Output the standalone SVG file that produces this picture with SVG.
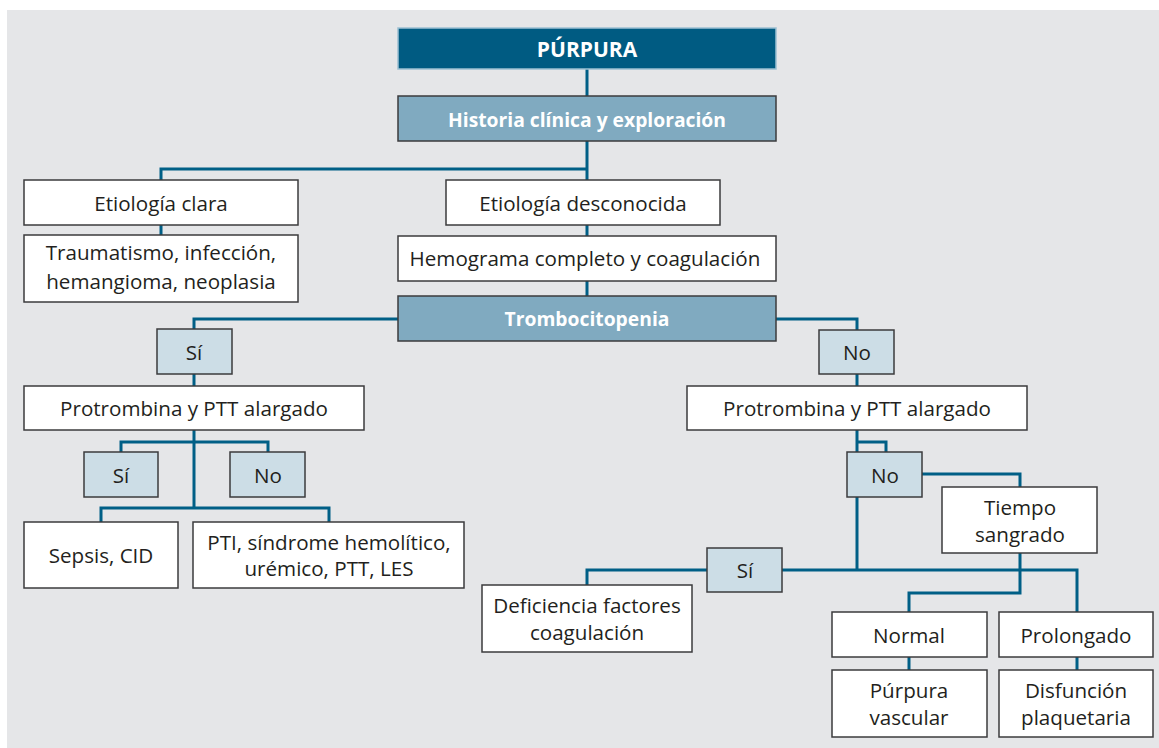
<svg xmlns="http://www.w3.org/2000/svg" width="1159" height="748" viewBox="0 0 1159 748">
  <style>
    .bg { fill: #e5e6e8; }
    .box { fill: #ffffff; stroke: #3b3b3d; stroke-width: 1.5; }
    .ans { fill: #ccdde6; stroke: #3b3b3d; stroke-width: 1.5; }
    .mid { fill: #80aac0; stroke: #3b3b3d; stroke-width: 1.5; }
    .top { fill: #005b82; stroke: #9cc0d2; stroke-width: 1.5; }
    .t { font-family: "Open Sans", "Liberation Sans", sans-serif; font-size: 20.6px; fill: #231f20; text-anchor: middle; }
    .tw { font-family: "Open Sans", "Liberation Sans", sans-serif; font-size: 19.3px; font-weight: bold; fill: #ffffff; text-anchor: middle; }
    .title { font-size: 21px; }
    .link { fill: none; stroke: #005f86; stroke-width: 3; stroke-linejoin: miter; stroke-linecap: butt; }
  </style>

  <rect class="bg" x="7" y="10" width="1152" height="738"/>

  <!-- connectors -->
  <g id="connectors">
    <polyline class="link" points="587,69 587,96"/>
    <polyline class="link" points="587,141 587,180"/>
    <polyline class="link" points="588,169 161,169 161,180"/>
    <polyline class="link" points="161,225 161,235"/>
    <polyline class="link" points="587,225 587,236"/>
    <polyline class="link" points="587,281 587,296"/>
    <polyline class="link" points="398,319 194,319 194,329"/>
    <polyline class="link" points="194,374 194,386"/>
    <polyline class="link" points="194,430 194,508"/>
    <polyline class="link" points="121,452 121,442 268,442 268,452"/>
    <polyline class="link" points="101,522 101,508 329,508 329,522"/>
    <polyline class="link" points="776,319 857,319 857,330"/>
    <polyline class="link" points="857,374 857,386"/>
    <polyline class="link" points="857,430 857,452"/>
    <polyline class="link" points="857,442 886,442 886,452"/>
    <polyline class="link" points="857,497 857,570"/>
    <polyline class="link" points="922,474 1020,474 1020,487"/>
    <polyline class="link" points="587,585 587,570 707,570"/>
    <polyline class="link" points="782,570 1077,570 1077,612"/>
    <polyline class="link" points="1020,553 1020,593 909,593 909,612"/>
    <polyline class="link" points="909,657 909,670"/>
    <polyline class="link" points="1077,657 1077,670"/>
  </g>

  <g id="purpura">
    <rect class="top" x="398" y="28" width="378" height="41"/>
    <text class="tw title" x="587" y="57">PÚRPURA</text>
  </g>
  <g id="historia">
    <rect class="mid" x="398" y="96" width="378" height="45"/>
    <text class="tw" x="587" y="127">Historia clínica y exploración</text>
  </g>
  <g id="etiologia-clara">
    <rect class="box" x="24" y="180" width="274" height="45"/>
    <text class="t" x="161" y="211">Etiología clara</text>
  </g>
  <g id="traumatismo">
    <rect class="box" x="24" y="235" width="274" height="67"/>
    <text class="t" x="161" y="260">Traumatismo, infección,</text>
    <text class="t" x="161" y="289">hemangioma, neoplasia</text>
  </g>
  <g id="etiologia-desconocida">
    <rect class="box" x="446" y="180" width="274" height="45"/>
    <text class="t" x="583" y="211">Etiología desconocida</text>
  </g>
  <g id="hemograma">
    <rect class="box" x="398" y="236" width="378" height="45"/>
    <text class="t" x="585" y="266">Hemograma completo y coagulación</text>
  </g>
  <g id="trombocitopenia">
    <rect class="mid" x="398" y="296" width="378" height="45"/>
    <text class="tw" x="587" y="326">Trombocitopenia</text>
  </g>

  <!-- left branch -->
  <g id="si-1">
    <rect class="ans" x="157" y="329" width="75" height="45"/>
    <text class="t" x="194" y="360">Sí</text>
  </g>
  <g id="protrombina-1">
    <rect class="box" x="24" y="386" width="340" height="44"/>
    <text class="t" x="194" y="416">Protrombina y PTT alargado</text>
  </g>
  <g id="si-2">
    <rect class="ans" x="84" y="452" width="74" height="45"/>
    <text class="t" x="121" y="483">Sí</text>
  </g>
  <g id="no-2">
    <rect class="ans" x="230" y="452" width="75" height="45"/>
    <text class="t" x="268" y="483">No</text>
  </g>
  <g id="sepsis">
    <rect class="box" x="24" y="522" width="154" height="66"/>
    <text class="t" x="101" y="563">Sepsis, CID</text>
  </g>
  <g id="pti">
    <rect class="box" x="193" y="522" width="271" height="66"/>
    <text class="t" x="329" y="550">PTI, síndrome hemolítico,</text>
    <text class="t" x="329" y="576">urémico, PTT, LES</text>
  </g>

  <!-- right branch -->
  <g id="no-1">
    <rect class="ans" x="819" y="330" width="75" height="44"/>
    <text class="t" x="857" y="360">No</text>
  </g>
  <g id="protrombina-2">
    <rect class="box" x="687" y="386" width="340" height="44"/>
    <text class="t" x="857" y="416">Protrombina y PTT alargado</text>
  </g>
  <g id="no-3">
    <rect class="ans" x="847" y="452" width="75" height="45"/>
    <text class="t" x="885" y="483">No</text>
  </g>
  <g id="tiempo">
    <rect class="box" x="942" y="487" width="155" height="66"/>
    <text class="t" x="1020" y="515">Tiempo</text>
    <text class="t" x="1020" y="542">sangrado</text>
  </g>
  <g id="si-3">
    <rect class="ans" x="707" y="548" width="75" height="44"/>
    <text class="t" x="745" y="578">Sí</text>
  </g>
  <g id="deficiencia">
    <rect class="box" x="482" y="585" width="210" height="67"/>
    <text class="t" x="587" y="613">Deficiencia factores</text>
    <text class="t" x="587" y="640">coagulación</text>
  </g>
  <g id="normal">
    <rect class="box" x="832" y="612" width="155" height="45"/>
    <text class="t" x="909" y="643">Normal</text>
  </g>
  <g id="prolongado">
    <rect class="box" x="999" y="612" width="154" height="45"/>
    <text class="t" x="1076" y="643">Prolongado</text>
  </g>
  <g id="purpura-vascular">
    <rect class="box" x="832" y="670" width="155" height="67"/>
    <text class="t" x="909" y="698">Púrpura</text>
    <text class="t" x="909" y="725">vascular</text>
  </g>
  <g id="disfuncion">
    <rect class="box" x="999" y="670" width="154" height="67"/>
    <text class="t" x="1076" y="698">Disfunción</text>
    <text class="t" x="1076" y="725">plaquetaria</text>
  </g>
</svg>
